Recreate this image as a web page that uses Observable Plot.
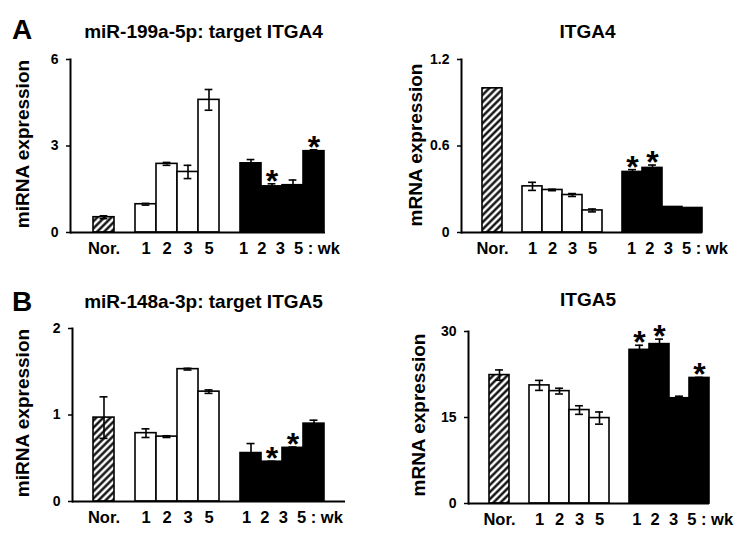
<!DOCTYPE html>
<html><head><meta charset="utf-8">
<script src="https://cdn.jsdelivr.net/npm/d3@7"></script>
<script src="https://cdn.jsdelivr.net/npm/@observablehq/plot@0.6"></script>
<style>
body{margin:0;background:#fff;}
#wrap{position:relative;width:752px;height:552px;overflow:hidden;background:#fff;font-family:"Liberation Sans",Arial,sans-serif;}
#wrap > svg{position:absolute;}
</style></head><body>
<svg width="0" height="0" style="position:absolute"><defs>
<pattern id="hatch" patternUnits="userSpaceOnUse" width="5" height="5" patternTransform="rotate(45)">
<rect width="5" height="5" fill="white"/><line x1="2.5" y1="0" x2="2.5" y2="5" stroke="black" stroke-width="2.3"/>
</pattern></defs></svg>
<div id="wrap"></div>
<script>
// ---- data ----
const barKeys = ["N","W1","W2","W3","W5","B1","B2","B3","B5"];
const barKinds = ["hatch","white","white","white","white","black","black","black","black"];
const norLabel = "Nor.";
const weekLabels = ["1","2","3","5"];
const unitLabel = ": wk";

const miR199Values = [0.53, 0.98, 2.38, 2.10, 4.60, 2.40, 1.60, 1.64, 2.82];
const miR199Errors = [0.05, 0.03, 0.05, 0.23, 0.36, 0.13, 0.09, 0.18, 0.05];
const miR199Sig    = [0,0,0,0,0,0,1,0,1];
const miR199Ticks  = [0, 3, 6];

const itga4Values = [1.00, 0.32, 0.295, 0.26, 0.153, 0.42, 0.448, 0.177, 0.17];
const itga4Errors = [0, 0.028, 0.005, 0.01, 0.01, 0.016, 0.02, 0, 0];
const itga4Sig    = [0,0,0,0,0,1,1,0,0];
const itga4Ticks  = [0, 0.6, 1.2];

const miR148Values = [0.97, 0.79, 0.75, 1.53, 1.27, 0.56, 0.46, 0.62, 0.90];
const miR148Errors = [0.24, 0.05, 0.01, 0.01, 0.02, 0.11, 0.005, 0.01, 0.04];
const miR148Sig    = [0,0,0,0,0,0,1,1,0];
const miR148Ticks  = [0, 1, 2];

const itga5Values = [22.4, 20.6, 19.6, 16.3, 14.9, 26.8, 27.8, 18.36, 21.9];
const itga5Errors = [0.9, 0.87, 0.5, 0.75, 1.06, 0.8, 0.87, 0.35, 0.1];
const itga5Sig    = [0,0,0,0,0,1,1,0,1];
const itga5Ticks  = [0, 15, 30];

const titles = ["miR-199a-5p: target ITGA4", "ITGA4", "miR-148a-3p: target ITGA5", "ITGA5"];
const yLabels = ["miRNA expression", "mRNA expression", "miRNA expression", "mRNA expression"];
const panelLetters = ["A", "B"];

// ---- layout ----
const panels = [
  {values: miR199Values, errors: miR199Errors, sig: miR199Sig, ticks: miR199Ticks,
   left:0, top:0, width:376, height:270, mL:70, mR:51, mT:59, mB:38, trailing:false, blackDx:-12},
  {values: itga4Values, errors: itga4Errors, sig: itga4Sig, ticks: itga4Ticks,
   left:376, top:0, width:376, height:270, mL:85, mR:50, mT:59, mB:38, trailing:false, blackDx:-5.5},
  {values: miR148Values, errors: miR148Errors, sig: miR148Sig, ticks: miR148Ticks,
   left:0, top:270, width:376, height:282, mL:72, mR:31, mT:58, mB:51, trailing:true, blackDx:-9},
  {values: itga5Values, errors: itga5Errors, sig: itga5Sig, ticks: itga5Ticks,
   left:376, top:270, width:376, height:282, mL:92, mR:43, mT:61, mB:49, trailing:false, blackDx:-7.3}
];

const fillOf = {hatch: "url(#hatch)", white: "white", black: "black"};
const whiteKeys = ["W1","W2","W3","W5"];
const xLabelOf = k => k === "N" ? norLabel : (whiteKeys.includes(k) ? weekLabels[whiteKeys.indexOf(k)] : "");
const blackText = weekLabels.join("\u00a0\u00a0") + "\u00a0" + unitLabel.replace(" ", "\u00a0");

const wrap = document.getElementById("wrap");

panels.forEach((p) => {
  const domain = ["_0","N","_1","W1","W2","W3","W5","_2","B1","B2","B3","B5"].concat(p.trailing ? ["_3"] : []);
  const data = barKeys.map((k, i) => ({key: k, kind: barKinds[i], v: p.values[i], e: p.errors[i], sig: !!p.sig[i]}));
  const errData = data.filter(d => d.e > 0);
  const bw = (p.width - p.mL - p.mR) / domain.length;
  const capInset = (bw - 8) / 2;
  const yMax = p.ticks[p.ticks.length - 1];
  const svg = Plot.plot({
    width: p.width, height: p.height,
    marginLeft: p.mL, marginRight: p.mR, marginTop: p.mT, marginBottom: p.mB,
    x: {type: "band", domain, padding: 0, axis: null},
    y: {domain: [0, yMax], axis: null},
    color: {type: "identity"},
    style: {fontFamily: "'Liberation Sans', Arial, sans-serif", fontWeight: "bold", background: "transparent", overflow: "visible", color: "black"},
    marks: [
      Plot.barY(data, {x: "key", y: "v", fill: d => fillOf[d.kind], stroke: "black", strokeWidth: 1.6}),
      Plot.ruleX(errData, {x: "key", y1: d => d.v - d.e, y2: d => d.v + d.e, strokeWidth: 1.6}),
      Plot.tickY(errData, {x: "key", y: d => d.v + d.e, insetLeft: capInset, insetRight: capInset, strokeWidth: 1.6}),
      Plot.tickY(errData, {x: "key", y: d => d.v - d.e, insetLeft: capInset, insetRight: capInset, strokeWidth: 1.6}),
      Plot.ruleY([0], {strokeWidth: 2}),
      Plot.frame({anchor: "left", strokeWidth: 2}),
      Plot.axisY({ticks: p.ticks, tickFormat: d => String(d), tickSize: 4, tickPadding: 8, fontSize: 14, strokeWidth: 1.5, label: null}),
      Plot.axisX({tickSize: 0, tickPadding: 10, tickFormat: xLabelOf, fontSize: 16.5, label: null}),
      Plot.text([{key: "B1", label: blackText}], {x: "key", text: "label", frameAnchor: "bottom", lineAnchor: "top", textAnchor: "start", dx: p.blackDx, dy: 10, fontSize: 16.5}),
      Plot.text(data.filter(d => d.sig), {x: "key", y: d => d.v + d.e, text: () => "*", fontSize: 32, lineAnchor: "bottom", dy: 8})
    ]
  });
  svg.style.left = p.left + "px";
  svg.style.top = p.top + "px";
  wrap.appendChild(svg);
});

// overlay: panel letters, titles, y-axis labels
const ns = "http://www.w3.org/2000/svg";
const ov = document.createElementNS(ns, "svg");
ov.setAttribute("width", 752); ov.setAttribute("height", 552);
ov.style.left = "0px"; ov.style.top = "0px"; ov.style.pointerEvents = "none";
ov.setAttribute("font-family", "'Liberation Sans', Arial, sans-serif");
ov.setAttribute("font-weight", "bold");
function addText(txt, x, y, size, anchor, rotate) {
  const t = document.createElementNS(ns, "text");
  t.textContent = txt;
  t.setAttribute("font-size", size);
  t.setAttribute("text-anchor", anchor);
  if (rotate) {
    t.setAttribute("transform", `translate(${x},${y}) rotate(-90)`);
    t.setAttribute("dy", "0.35em");
  } else {
    t.setAttribute("x", x); t.setAttribute("y", y);
  }
  ov.appendChild(t);
}
addText(panelLetters[0], 12, 39, 28, "start");
addText(panelLetters[1], 12, 311, 28, "start");
addText(titles[0], 203.5, 37.5, 19, "middle");
addText(titles[1], 587.5, 38, 19, "middle");
addText(titles[2], 203.5, 307.5, 19, "middle");
addText(titles[3], 588, 306, 19, "middle");
addText(yLabels[0], 22.5, 144, 19, "middle", true);
addText(yLabels[1], 415, 145, 19, "middle", true);
addText(yLabels[2], 22.5, 413, 19, "middle", true);
addText(yLabels[3], 418, 415, 19, "middle", true);
wrap.appendChild(ov);
</script>
</body></html>
